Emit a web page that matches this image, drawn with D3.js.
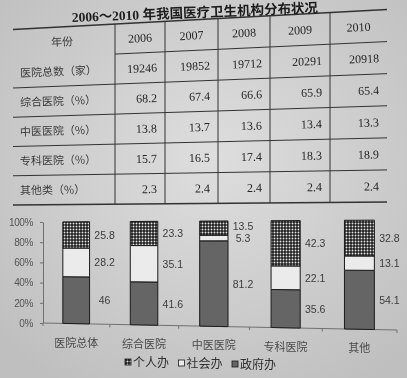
<!DOCTYPE html>
<html>
<head>
<meta charset="utf-8">
<script src="https://cdn.jsdelivr.net/npm/d3@7"></script>
<style>
	body { margin: 0; background: #cfcfcf; }
	svg { display: block; }
	.tnum { font-family: "Liberation Serif", "DejaVu Serif", serif; font-size: 12px; fill: #262626; }
	.tlab { font-family: "Noto Sans CJK SC", sans-serif; font-size: 11px; fill: #3a3a3a; }
	.ttl { font-family: "Liberation Serif", "Noto Sans CJK SC", serif; font-size: 13.5px; font-weight: bold; fill: #1c1c1c; }
	.blab { font-family: "Liberation Sans", Arial, sans-serif; font-size: 10.5px; fill: #3c3c3c; }
	.cat { font-family: "Noto Sans CJK SC", sans-serif; font-size: 11px; fill: #4a4a4a; }
	.leg { font-family: "Noto Sans CJK SC", sans-serif; font-size: 12px; fill: #303030; }
</style>
</head>
<body>
<div class="container"></div>
<script>

	// table data
	var years = ['2006', '2007', '2008', '2009', '2010'];
	var rowLabels = ['医院总数（家）', '综合医院（%）', '中医医院（%）', '专科医院（%）', '其他类（%）'];
	var hospitalTotal = [19246, 19852, 19712, 20291, 20918];
	var generalPct = [68.2, 67.4, 66.6, 65.9, 65.4];
	var tcmPct = [13.8, 13.7, 13.6, 13.4, 13.3];
	var specialPct = [15.7, 16.5, 17.4, 18.3, 18.9];
	var otherPct = [2.3, 2.4, 2.4, 2.4, 2.4];

	// chart data
	var categories = ['医院总体', '综合医院', '中医医院', '专科医院', '其他'];
	var govt = [46, 41.6, 81.2, 35.6, 54.1];
	var social = [28.2, 35.1, 5.3, 22.1, 13.1];
	var personal = [25.8, 23.3, 13.5, 42.3, 32.8];
	var legendNames = ['个人办', '社会办', '政府办'];
	var yTicks = [0, 20, 40, 60, 80, 100];

	var W = 407, H = 378;

	var svg = d3.select('.container').append('svg').attr('width', W).attr('height', H);
	var defs = svg.append('defs');

	var grad = defs.append('radialGradient').attr('id', 'paper').attr('cx', '52%').attr('cy', '42%').attr('r', '70%');
	grad.append('stop').attr('offset', '0%').attr('stop-color', '#dedede');
	grad.append('stop').attr('offset', '100%').attr('stop-color', '#bfbfbf');

	var pat = defs.append('pattern').attr('id', 'dots').attr('patternUnits', 'userSpaceOnUse')
		.attr('width', 3).attr('height', 3);
	pat.append('rect').attr('width', 3).attr('height', 3).attr('fill', '#1e1e1e');
	pat.append('circle').attr('cx', 1.5).attr('cy', 1.5).attr('r', 0.95).attr('fill', '#e2e2e2');

	defs.append('filter').attr('id', 'soft')
		.append('feGaussianBlur').attr('stdDeviation', 0.35);

	svg.append('rect').attr('width', W).attr('height', H).attr('fill', 'url(#paper)');

	var g = svg.append('g').attr('filter', 'url(#soft)');

	// ---- table (photo is skewed: right side sits higher and is taller) ----
	var tLeft = 13, tRight = 387;
	var tTop = [29.5, 9.5];
	var tBot = [205, 202];
	var colEdges = [13, 115, 165, 218, 270, 330, 387];
	var nRows = rowLabels.length + 1;

	function tY(x, v) {
		var t = (x - tLeft) / (tRight - tLeft);
		var top = tTop[0] + t * (tTop[1] - tTop[0]);
		var bot = tBot[0] + t * (tBot[1] - tBot[0]);
		return top + v * (bot - top);
	}
	function tAngle(v) {
		return Math.atan2(tY(tRight, v) - tY(tLeft, v), tRight - tLeft) * 180 / Math.PI;
	}
	function put(x, v, txt, anchor, cls) {
		var y = tY(x, v);
		g.append('text').attr('class', cls)
			.attr('x', x).attr('y', y).attr('dy', '0.36em')
			.attr('text-anchor', anchor)
			.attr('transform', 'rotate(' + tAngle(v) + ',' + x + ',' + y + ')')
			.text(txt);
	}

	// horizontal rules
	d3.range(nRows + 1).forEach(function(i){
		var v = i / nRows;
		var x0 = i == 1 ? colEdges[1] : tLeft;
		g.append('line')
			.attr('x1', x0).attr('y1', tY(x0, v))
			.attr('x2', tRight).attr('y2', tY(tRight, v))
			.attr('stroke', '#333')
			.attr('stroke-width', (i == 0 || i == nRows) ? 1.5 : 1);
	});

	// vertical rules
	colEdges.slice(1, -1).forEach(function(x){
		g.append('line')
			.attr('x1', x).attr('y1', tY(x, 0))
			.attr('x2', x).attr('y2', tY(x, 1))
			.attr('stroke', '#333').attr('stroke-width', 1);
	});

	// title (a bit less tilted so it stays inside the frame)
	var titleY = tY(195, 0) - 2.5;
	g.append('text').attr('class', 'ttl')
		.attr('x', 195).attr('y', titleY).attr('text-anchor', 'middle')
		.attr('transform', 'rotate(' + (tAngle(0) * 0.72) + ',195,' + titleY + ')')
		.text('2006～2010 年我国医疗卫生机构分布状况');

	// header row
	put(62, 0.5 / nRows, '年份', 'middle', 'tlab');
	years.forEach(function(yr, j){
		put((colEdges[j + 1] + colEdges[j + 2]) / 2, 0.5 / nRows, yr, 'middle', 'tnum');
	});

	var rowValues = [hospitalTotal, generalPct, tcmPct, specialPct, otherPct];
	rowValues.forEach(function(vals, i){
		var v = (i + 1.5) / nRows;
		put(20, v, rowLabels[i], 'start', 'tlab');
		vals.forEach(function(val, j){
			var txt = i == 0 ? String(val) : val.toFixed(1);
			put(colEdges[j + 2] - 8, v, txt, 'end', 'tnum');
		});
	});

	// ---- stacked bar chart ----
	var cLeft = 43, cRight = 397;
	var cTop = [222, 220];
	var cBot = [323, 330];

	var rows = categories.map(function(c, i){
		return { cat: c, govt: govt[i], social: social[i], personal: personal[i] };
	});
	var keys = ['govt', 'social', 'personal'];
	var fills = { govt: '#656565', social: '#ebebeb', personal: 'url(#dots)' };
	var stacked = d3.stack().keys(keys)(rows);

	var u = d3.scaleBand().domain(categories).range([0, 1]).paddingInner(0.6).paddingOuter(0.3);

	// slight perspective along x
	function px(t) { return cLeft + (cRight - cLeft) * t * (0.93 + 0.07 * t); }
	function yAt(x) {
		var t = (x - cLeft) / (cRight - cLeft);
		return d3.scaleLinear().domain([0, 100])
			.range([cBot[0] + t * (cBot[1] - cBot[0]), cTop[0] + t * (cTop[1] - cTop[0])]);
	}

	// y axis
	var yAxis = d3.axisLeft(yAt(cLeft)).tickValues(yTicks)
		.tickFormat(function(d){ return d + '%'; })
		.tickSize(3).tickSizeOuter(0).tickPadding(7);
	var ax = g.append('g').attr('transform', 'translate(' + cLeft + ',0)').call(yAxis);
	ax.select('.domain').attr('stroke', '#707070');
	ax.selectAll('.tick line').attr('stroke', '#707070');
	ax.selectAll('.tick text').attr('fill', '#555').attr('font-size', 10)
		.attr('font-family', '"Liberation Sans", Arial, sans-serif').attr('letter-spacing', -0.4);

	// x axis baseline + ticks
	g.append('line')
		.attr('x1', cLeft).attr('y1', yAt(cLeft)(0))
		.attr('x2', px(1)).attr('y2', yAt(px(1))(0))
		.attr('stroke', '#707070');
	d3.range(categories.length + 1).forEach(function(i){
		var x = px(i * u.step());
		var y = yAt(x)(0);
		g.append('line').attr('x1', x).attr('y1', y).attr('x2', x).attr('y2', y + 3)
			.attr('stroke', '#707070');
	});

	var bw = u.bandwidth();
	stacked.forEach(function(layer){
		g.selectAll('path.seg-' + layer.key)
			.data(layer)
			.enter()
			.append('path')
			.attr('class', 'seg-' + layer.key)
			.attr('d', function(d){
				var x0 = px(u(d.data.cat)), x1 = px(u(d.data.cat) + bw);
				return 'M' + x0 + ',' + yAt(x0)(d[0]) +
					'L' + x1 + ',' + yAt(x1)(d[0]) +
					'L' + x1 + ',' + yAt(x1)(d[1]) +
					'L' + x0 + ',' + yAt(x0)(d[1]) + 'Z';
			})
			.attr('fill', fills[layer.key])
			.attr('stroke', '#1a1a1a')
			.attr('stroke-width', 1);
	});

	// value labels to the right of each bar
	categories.forEach(function(c, i){
		var lx = px(u(c) + bw) + 15;
		var ys = stacked.map(function(layer){
			var d = layer[i];
			return yAt(lx)((d[0] + d[1]) / 2);
		});
		// keep thin segments' labels from overlapping
		if (ys[1] - ys[2] < 12) ys[2] = ys[1] - 12;
		if (ys[0] - ys[1] < 12) ys[1] = ys[0] - 12;
		stacked.forEach(function(layer, k){
			g.append('text').attr('class', 'blab')
				.attr('x', lx).attr('y', ys[k]).attr('dy', '0.36em')
				.attr('text-anchor', 'middle')
				.text(String(layer[i].data[layer.key]));
		});
	});

	// category labels
	categories.forEach(function(c){
		var x = px(u(c) + bw / 2);
		g.append('text').attr('class', 'cat')
			.attr('x', x).attr('y', yAt(x)(0) + 19).attr('dy', '0.36em')
			.attr('text-anchor', 'middle')
			.text(c);
	});

	// legend
	var legFill = ['url(#dots)', '#ebebeb', '#656565'];
	legendNames.forEach(function(name, i){
		var x = 125 + i * 53.5;
		var y = 362.5 + i * 1;
		g.append('rect').attr('x', x).attr('y', y - 3.5).attr('width', 6).attr('height', 6)
			.attr('fill', legFill[i]).attr('stroke', '#1a1a1a').attr('stroke-width', 0.8);
		g.append('text').attr('class', 'leg')
			.attr('x', x + 8).attr('y', y).attr('dy', '0.36em')
			.text(name);
	});

</script>
</body>
</html>
